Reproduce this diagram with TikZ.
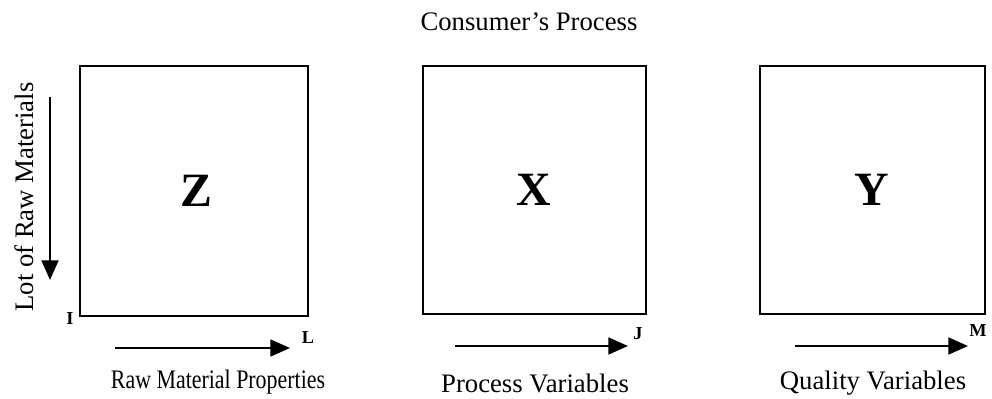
\documentclass[tikz,border=0pt]{standalone}
\usepackage{fontspec}
\setmainfont{Liberation Serif}
\usetikzlibrary{arrows.meta}

\begin{document}
\begin{tikzpicture}[x=0.025cm, y=-0.025cm,
    matbox/.style={draw=black, line width=1.4pt},
    dirarrow/.style={line width=1.5pt, -{Triangle[length=14pt, width=12pt]}},
    bigletter/.style={font=\fontsize{34}{34}\selectfont\bfseries},
    caption/.style={font=\fontsize{19}{19}\selectfont},
    index/.style={font=\fontsize{13}{13}\selectfont\bfseries}]
      \useasboundingbox (0,0) rectangle (992,399);
      % block corners
      \coordinate (z1) at (80,66);
      \coordinate (z2) at (308,316);
      \coordinate (x1) at (423,66);
      \coordinate (x2) at (646,314);
      \coordinate (y1) at (760,66);
      \coordinate (y2) at (985,314);
      \foreach \b in {z,x,y} {
        \draw[matbox] (\b1) rectangle (\b2);
      }
      \node[bigletter] (Z) at (196,191) {Z};
      \node[bigletter] (X) at (534,190) {X};
      \node[bigletter] (Y) at (872,190) {Y};
      \node[caption] (title) at (529,22) {Consumer's Process};
      % direction arrows
      \coordinate (ls) at (50,97);
      \coordinate (le) at (50,280);
      \coordinate (zs) at (115,348);
      \coordinate (ze) at (290,348);
      \coordinate (xs) at (455,346);
      \coordinate (xe) at (628,346);
      \coordinate (ys) at (795,346);
      \coordinate (ye) at (968,346);
      \draw[dirarrow] (ls) -- (le);
      \foreach \b in {z,x,y} {
        \draw[dirarrow] (\b s) -- (\b e);
      }
      \node[caption, rotate=90] (lot) at (24,197) {Lot of Raw Materials};
      \node[caption] (rawprop) at (218,382) {\scalebox{0.82}[1]{Raw Material Properties}};
      \node[caption] (procvar) at (535,383) {Process Variables};
      \node[caption] (qualvar) at (873,383) {Quality Variables};
      \node[index] (I) at (70,319) {I};
      \node[index] (L) at (308,338) {L};
      \node[index] (J) at (638,334) {J};
      \node[index] (M) at (978,331) {M};
    \end{tikzpicture}
\end{document}
